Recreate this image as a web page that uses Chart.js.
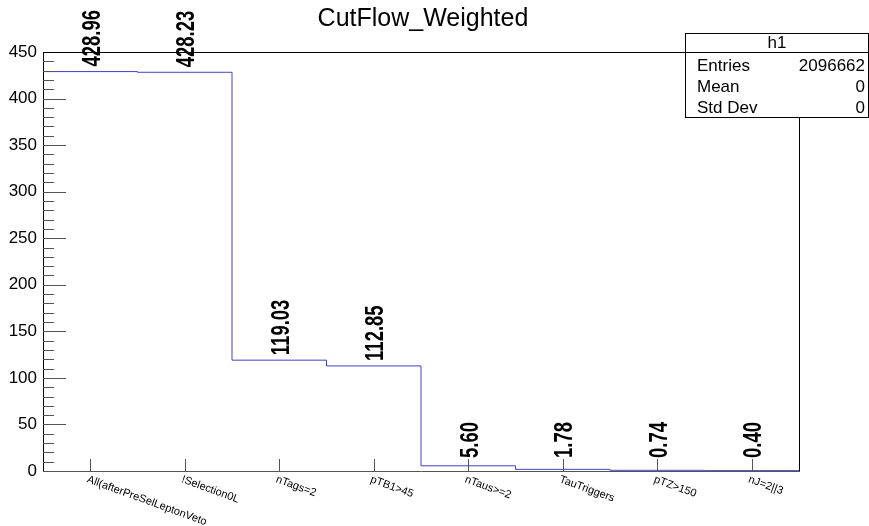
<!DOCTYPE html>
<html>
<head>
<meta charset="utf-8">
<script src="https://cdn.jsdelivr.net/npm/chart.js@4/dist/chart.umd.min.js"></script>
<style>
html,body{margin:0;padding:0;background:#fff;}
canvas{display:block;}
</style>
</head>
<body>
<canvas id="c" width="869" height="526"></canvas>
<script>
const chartTitle = "CutFlow_Weighted";
const categories = ["All(afterPreSelLeptonVeto", "!Selection0L", "nTags=2", "pTB1>45", "nTaus>=2", "TauTriggers", "pTZ>150", "nJ=2||3"];
const values = [428.96, 428.23, 119.03, 112.85, 5.60, 1.78, 0.74, 0.40];
const yTicks = [0, 50, 100, 150, 200, 250, 300, 350, 400, 450];
const statsName = "h1";
const statsLabels = ["Entries", "Mean", "Std Dev"];
const statsValues = ["2096662", "0", "0"];

const FONT = "'Liberation Sans', Arial, Helvetica, sans-serif";

// histogram edges: bin i spans [i, i+1]
const stepPoints = values.map((v, i) => ({x: i, y: v}));
stepPoints.push({x: values.length, y: values[values.length - 1]});

const rootPlugin = {
  id: 'rootStyle',
  afterDraw(chart) {
    const ctx = chart.ctx;
    const xs = chart.scales.x, ys = chart.scales.y;
    const ca = chart.chartArea;
    ctx.save();

    // title
    ctx.fillStyle = '#000';
    ctx.font = "25px " + FONT;
    ctx.textAlign = 'center';
    ctx.textBaseline = 'middle';
    ctx.fillText(chartTitle, 423, 19);

    // y ticks (major/minor, inside)
    ctx.strokeStyle = '#555';
    ctx.lineWidth = 1;
    const yMax = yTicks[yTicks.length - 1];
    const major = yTicks[1] - yTicks[0];
    for (let v = 0; v <= yMax; v += major / 5) {
      const py = Math.round(ys.getPixelForValue(v)) + 0.5;
      const isMajor = Math.abs(v / major - Math.round(v / major)) < 1e-6;
      const len = isMajor ? 23 : 11;
      ctx.beginPath();
      ctx.moveTo(ca.left, py);
      ctx.lineTo(ca.left + len, py);
      ctx.stroke();
    }
    // x ticks at bin centers
    categories.forEach((c, i) => {
      const px = Math.round(xs.getPixelForValue(i + 0.5)) + 0.5;
      ctx.beginPath();
      ctx.moveTo(px, ca.bottom);
      ctx.lineTo(px, ca.bottom - 12);
      ctx.stroke();
    });

    // x category labels, rotated
    ctx.fillStyle = '#000';
    ctx.font = "11px " + FONT;
    ctx.textAlign = 'left';
    ctx.textBaseline = 'top';
    categories.forEach((c, i) => {
      const px = xs.getPixelForValue(i + 0.5);
      ctx.save();
      ctx.translate(px - 1, ca.bottom + 3);
      ctx.rotate(20 * Math.PI / 180);
      ctx.fillText(c, 0, 0);
      ctx.restore();
    });

    // bin value labels, rotated 90
    ctx.font = "bold 18.5px " + FONT;
    ctx.textAlign = 'left';
    ctx.textBaseline = 'middle';
    values.forEach((v, i) => {
      const px = xs.getPixelForValue(i + 0.5) + 2.5;
      const py = Math.min(ys.getPixelForValue(v) - 5, 458);
      ctx.save();
      ctx.translate(px, py);
      ctx.rotate(-Math.PI / 2);
      ctx.scale(1, 1.35);
      ctx.fillText(v.toFixed(2), 0, 0);
      ctx.restore();
    });

    // frame top and right
    ctx.strokeStyle = '#000';
    ctx.beginPath();
    ctx.moveTo(ca.left, Math.round(ca.top) + 0.5);
    ctx.lineTo(ca.right, Math.round(ca.top) + 0.5);
    ctx.moveTo(Math.round(ca.right) + 0.5, ca.top);
    ctx.lineTo(Math.round(ca.right) + 0.5, ca.bottom);
    ctx.stroke();

    // stats box
    const bx = 685.5, by = 33.5, bw = 183, bh = 84;
    ctx.fillStyle = '#fff';
    ctx.fillRect(bx, by, bw, bh);
    ctx.strokeStyle = '#000';
    ctx.strokeRect(bx, by, bw, bh);
    ctx.beginPath();
    ctx.moveTo(bx, 52.5);
    ctx.lineTo(bx + bw, 52.5);
    ctx.stroke();
    ctx.fillStyle = '#000';
    ctx.font = "17px " + FONT;
    ctx.textBaseline = 'middle';
    ctx.textAlign = 'center';
    ctx.fillText(statsName, bx + bw / 2, 43);
    const rowY = [66, 87, 108];
    statsLabels.forEach((l, i) => {
      ctx.textAlign = 'left';
      ctx.fillText(l, 697, rowY[i]);
      ctx.textAlign = 'right';
      ctx.fillText(statsValues[i], 865, rowY[i]);
    });

    ctx.restore();
  }
};

new Chart(document.getElementById('c'), {
  type: 'line',
  data: {
    datasets: [{
      data: stepPoints,
      stepped: 'before',
      borderColor: '#4040c8',
      borderWidth: 1,
      pointRadius: 0,
      fill: false,
      tension: 0
    }]
  },
  options: {
    responsive: false,
    devicePixelRatio: 1,
    animation: false,
    layout: {padding: {top: 52, right: 70, left: 0, bottom: 0}},
    plugins: {legend: {display: false}, title: {display: false}, tooltip: {enabled: false}},
    scales: {
      x: {
        type: 'linear',
        min: 0,
        max: categories.length,
        ticks: {display: false},
        grid: {display: false, drawTicks: false},
        border: {display: true, color: '#555', width: 1},
        afterFit(s) { s.height = 55; }
      },
      y: {
        min: yTicks[0],
        max: yTicks[yTicks.length - 1],
        afterBuildTicks(s) { s.ticks = yTicks.map(v => ({value: v})); },
        ticks: {
          color: '#000',
          font: {family: FONT, size: 17},
          padding: 6,
          callback: v => String(v)
        },
        grid: {display: false, drawTicks: false},
        border: {display: true, color: '#000', width: 1},
        afterFit(s) { s.width = 43; }
      }
    }
  },
  plugins: [rootPlugin]
});
</script>
</body>
</html>
